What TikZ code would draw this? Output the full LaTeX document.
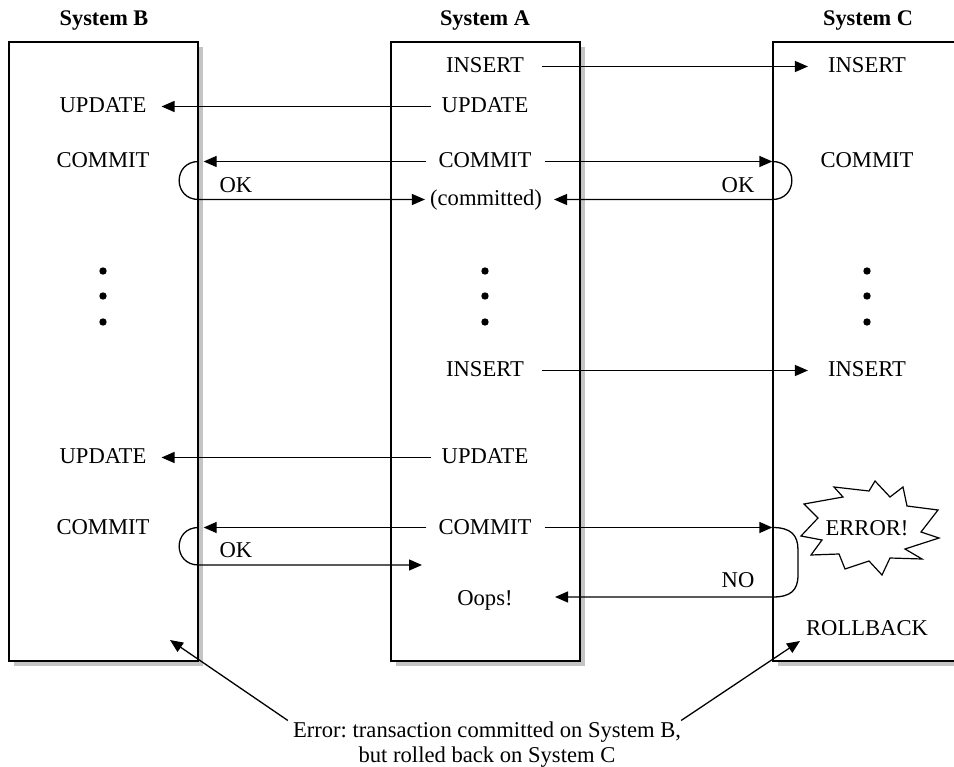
\documentclass[tikz,border=0pt]{standalone}
\usepackage{fontspec}
\setmainfont{Liberation Serif}
\usetikzlibrary{arrows.meta,shadows}
\definecolor{shadowgray}{RGB}{196,196,196}
\frenchspacing
\begin{document}
\begin{tikzpicture}[x=1pt,y=-1pt,
  lbl/.style={inner sep=0pt, text height=15pt, text depth=2pt, font=\fontsize{22.6}{26}\selectfont},
  ttl/.style={inner sep=0pt, text height=15pt, text depth=2pt, font=\fontsize{22.3}{26}\selectfont\bfseries},
  sysbox/.style={draw, line width=1.3pt, fill=white, minimum width=189pt, minimum height=619pt, inner sep=0pt,
    drop shadow={shadow xshift=5pt, shadow yshift=-5pt, fill=shadowgray, opacity=1}},
  arr/.style={line width=1.3pt, -{Triangle[length=13pt,width=11pt]}},
  dotmark/.style={circle, fill=black, inner sep=0pt, minimum size=7.4pt}
]
\useasboundingbox (0,0) rectangle (954,767);

% boxes
\node[sysbox] (boxB) at (103.5,351.5) {};
\node[sysbox] (boxA) at (485.5,351.5) {};
\node[sysbox] (boxC) at (867.5,351.5) {};

% titles
\node[ttl] (tB) at (104,19.5) {System B};
\node[ttl] (tA) at (485,19.5) {System A};
\node[ttl] (tC) at (868,19.5) {System C};

% first block
\node[lbl] (aI1) at (485,66.5) {INSERT};
\node[lbl] (cI1) at (867,66.5) {INSERT};
\node[lbl] (bU1) at (103,106.5) {UPDATE};
\node[lbl] (aU1) at (485,106.5) {UPDATE};
\node[lbl] (bC1) at (103,161.5) {COMMIT};
\node[lbl] (aC1) at (485,161.5) {COMMIT};
\node[lbl] (cC1) at (867,161.5) {COMMIT};
\node[lbl] (okB1) at (236,186.5) {OK};
\node[lbl] (okC1) at (738,186.5) {OK};
\node[lbl] (aCd) at (486,199.5) {(committed)};

% dots
\foreach \px/\nm in {103/b,485/a,867/c}{
  \node[dotmark] (\nm d1) at (\px,271) {};
  \node[dotmark] (\nm d2) at (\px,296) {};
  \node[dotmark] (\nm d3) at (\px,322) {};
}

% second block
\node[lbl] (aI2) at (485,370.5) {INSERT};
\node[lbl] (cI2) at (867,370.5) {INSERT};
\node[lbl] (bU2) at (103,457.5) {UPDATE};
\node[lbl] (aU2) at (485,457.5) {UPDATE};
\node[lbl] (bC2) at (103,527.5) {COMMIT};
\node[lbl] (aC2) at (485,527.5) {COMMIT};
\node[lbl] (okB2) at (236,550.5) {OK};
\node[lbl] (no) at (738,580.5) {NO};
\node[lbl] (oops) at (485,598.5) {Oops!};
\node[lbl] (rb) at (867,628.5) {ROLLBACK};

% starburst
\draw[line width=1.2pt, fill=white] (804,504) -- (843,497) -- (834,487) -- (869,491) -- (875,481)
  -- (890,497) -- (903,487) -- (907,506) -- (938,510) -- (921,532) -- (939,538) -- (905,549)
  -- (922,559) -- (890,558) -- (882,575) -- (869,561) -- (845,569) -- (839,554) -- (811,555)
  -- (822,540) -- (801,536) -- (818,518) -- cycle;
\node[lbl] (err) at (867,528.5) {ERROR!};

% message
\node[lbl] (m1) at (487,730.5) {Error: transaction committed on System B,};
\node[lbl] (m2) at (487,755.5) {but rolled back on System C};
\coordinate (tipB) at (170,640);
\coordinate (tipC) at (800,641);
\coordinate (okTip) at (422,565);
\coordinate (noR1) at (798,550);
\coordinate (noR2) at (798,575);
\coordinate (noEnd) at (773,597);
\coordinate (oopsTip) at (555,597);

% arrows first block
\draw[arr] ([xshift=18pt]aI1.east) -- ([xshift=-20pt]cI1.west);
\draw[arr] ([xshift=-10pt]aU1.west) -- ([xshift=15pt]bU1.east);
\draw[arr] ([xshift=-12pt]aC1.west) -- ([xshift=5pt]boxB.east |- aC1.west);
\draw[arr] ([xshift=13pt]aC1.east) -- (boxC.west |- aC1.east);
\draw[arr] (boxB.east |- aC1.west) .. controls +(-26,0) and +(-26,0) .. (boxB.east |- aCd.west)
  -- ([xshift=-5pt]aCd.west);
\draw[arr] (boxC.west |- aC1.east) .. controls +(26,0) and +(26,0) .. (boxC.west |- aCd.east)
  -- ([xshift=12pt]aCd.east);

% arrows second block
\draw[arr] ([xshift=18pt]aI2.east) -- ([xshift=-20pt]cI2.west);
\draw[arr] ([xshift=-10pt]aU2.west) -- ([xshift=15pt]bU2.east);
\draw[arr] ([xshift=-12pt]aC2.west) -- ([xshift=5pt]boxB.east |- aC2.west);
\draw[arr] ([xshift=13pt]aC2.east) -- (boxC.west |- aC2.east);
\draw[arr] (boxB.east |- aC2.west) .. controls +(-26,0) and +(-26,0) .. (boxB.east |- okTip)
  -- (okTip);
\draw[arr] (boxC.west |- aC2.east) .. controls (791,527.5) and (798,535) .. (noR1)
  -- (noR2) .. controls (798,590) and (791,597) .. (noEnd) -- (oopsTip);

% callouts
\draw[arr] ([shift={(-5,-10)}]m1.west) -- (tipB);
\draw[arr] ([shift={(0,-10)}]m1.east) -- (tipC);
\end{tikzpicture}
\end{document}
